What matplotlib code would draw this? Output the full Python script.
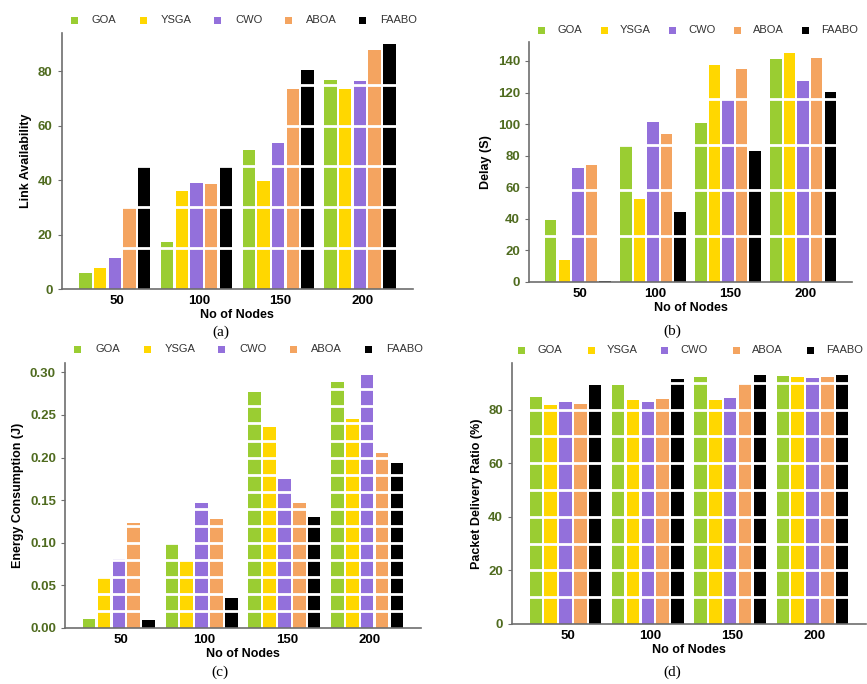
import numpy as np
import matplotlib
matplotlib.use("Agg")
import matplotlib.pyplot as plt
from matplotlib.patches import Rectangle

# Data
noder = [50, 100, 150, 200]
algoritmer = ["GOA", "YSGA", "CWO", "ABOA", "FAABO"]
farger = ["#9ACD32", "#FFD700", "#9370DB", "#F4A460", "#000000"]

link_availability = {
    "GOA":   [5.9, 17.3, 51.2, 76.6],
    "YSGA":  [7.7, 36.0, 39.6, 73.5],
    "CWO":   [11.2, 39.1, 53.7, 76.2],
    "ABOA":  [29.9, 38.6, 73.3, 87.6],
    "FAABO": [44.7, 44.7, 80.4, 89.8],
}
delay = {
    "GOA":   [39.4, 86.2, 100.8, 141.3],
    "YSGA":  [13.7, 52.3, 137.7, 144.8],
    "CWO":   [72.3, 101.6, 115.5, 127.6],
    "ABOA":  [74.4, 93.8, 134.9, 141.9],
    "FAABO": [0.8, 44.3, 83.1, 120.6],
}
energy = {
    "GOA":   [0.0106, 0.0997, 0.277, 0.2887],
    "YSGA":  [0.0583, 0.079, 0.2355, 0.2456],
    "CWO":   [0.0806, 0.1467, 0.1748, 0.2973],
    "ABOA":  [0.1236, 0.128, 0.1467, 0.2053],
    "FAABO": [0.0094, 0.0352, 0.130, 0.1936],
}
pdr = {
    "GOA":   [84.7, 89.3, 92.1, 92.6],
    "YSGA":  [81.7, 83.7, 83.7, 92.0],
    "CWO":   [82.9, 82.9, 84.4, 91.8],
    "ABOA":  [82.0, 84.0, 90.0, 92.0],
    "FAABO": [89.1, 91.6, 92.8, 93.1],
}

W, H = 867, 684
fig = plt.figure(figsize=(W / 100, H / 100), dpi=100)

TICKFARGE = "#4F6B1F"
SPINEFARGE = "#6E6E6E"


def rect(x0, y_topp, x1, y_bunn):
    return [x0 / W, 1 - y_bunn / H, (x1 - x0) / W, (y_bunn - y_topp) / H]


def legende(markor_x, tekst_dx, y):
    for mx, navn, farge in zip(markor_x, algoritmer, farger):
        s = 7
        fig.add_artist(Rectangle(((mx - s / 2) / W, 1 - (y + s / 2) / H), s / W, s / H,
                                 transform=fig.transFigure, color=farge, lw=0))
        fig.text((mx + tekst_dx) / W, 1 - y / H, navn, fontsize=8,
                 family="Liberation Sans", color="#333333", va="center", ha="left")


def panel(pos, data, ylim, yticks, linjer, ylabel, caption, cap_xy, fmt=None):
    ax = fig.add_axes(rect(*pos))
    offset = [(i - 2) * 9 - 1.5 for i in range(5)]
    for i, navn in enumerate(algoritmer):
        x = np.array(noder) + offset[i]
        ax.bar(x, data[navn], width=7.6, color=farger[i], zorder=2)
    # hvite linjer over søylene
    for yl in linjer:
        ax.axhline(yl, color="white", lw=2, zorder=3)
    ax.set_xlim(16, 231)
    ax.set_ylim(*ylim)
    ax.set_xticks(noder)
    ax.set_yticks(yticks)
    if fmt:
        ax.set_yticklabels([fmt.format(v) for v in yticks])
    for s in ["top", "right"]:
        ax.spines[s].set_visible(False)
    for s in ["left", "bottom"]:
        ax.spines[s].set_color(SPINEFARGE)
        ax.spines[s].set_linewidth(1.2)
        ax.spines[s].set_zorder(5)
    ax.tick_params(axis="y", colors=SPINEFARGE, labelcolor=TICKFARGE, length=3)
    ax.tick_params(axis="x", length=0, pad=4)
    for t in ax.get_yticklabels():
        t.set_fontweight("bold"); t.set_fontsize(9.5); t.set_family("Liberation Sans")
    for t in ax.get_xticklabels():
        t.set_fontweight("bold"); t.set_fontsize(9.5); t.set_family("Liberation Sans")
    ax.set_xlabel("No of Nodes", fontsize=9, fontweight="bold", family="Liberation Sans", labelpad=2)
    ax.set_ylabel(ylabel, fontsize=9, fontweight="bold", family="Liberation Sans")
    fig.text(cap_xy[0] / W, 1 - cap_xy[1] / H, caption, fontsize=11,
             family="Liberation Serif", ha="center", va="center")
    return ax


panel((61.7, 33, 413, 289), link_availability, (0, 94), [0, 20, 40, 60, 80],
      [15, 30, 45, 60, 75], "Link Availability", "(a)", (221, 332))
legende([74, 143, 217, 288, 362], 18, 20)

panel((529, 42, 852, 282), delay, (0, 152), [0, 20, 40, 60, 80, 100, 120, 140],
      [29, 58, 87, 116], "Delay (S)", "(b)", (672, 331))
legende([541, 604, 672, 737, 805], 16, 30)

panel((65, 363, 421, 628), energy, (0, 0.311), [0, 0.05, 0.10, 0.15, 0.20, 0.25, 0.30],
      np.arange(0.02, 0.29, 0.02), "Energy Consumption (J)", "(c)", (220, 672), fmt="{:.2f}")
legende([77, 147, 221, 293, 368], 18, 349)

panel((512, 363, 866, 624), pdr, (0, 97.4), [0, 20, 40, 60, 80],
      [10, 20, 30, 40, 50, 60, 70, 80, 90], "Packet Delivery Ratio (%)", "(d)", (672, 672))
legende([521, 591, 664, 736, 810], 16, 350)

fig.savefig("out.png", dpi=100)
